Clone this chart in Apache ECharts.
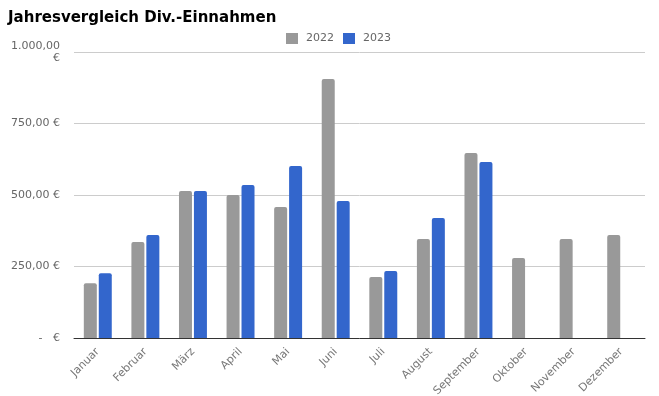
<!DOCTYPE html>
<html>
<head>
<meta charset="utf-8">
<script src="https://cdn.jsdelivr.net/npm/echarts@6/dist/echarts.min.js"></script>
<style>
html,body{margin:0;padding:0;background:#fff;}
#chart{width:659px;height:396px;}
</style>
</head>
<body>
<div id="chart"></div>
<script>
// Monate
var months = ['Januar','Februar','März','April','Mai','Juni','Juli','August','September','Oktober','November','Dezember'];
// Div.-Einnahmen in Euro
var y2022 = [191, 336, 514, 500, 458, 906, 213, 346, 647, 280, 346, 360];
var y2023 = [226, 360, 514, 535, 601, 479, 234, 420, 615, null, null, null];
// Achsenbeschriftung
var tickValues = [0, 250, 500, 750, 1000];
var tickLabels = ['-   €', '250,00 €', '500,00 €', '750,00 €', '1.000,00\n€'];

var chart = echarts.init(document.getElementById('chart'));
chart.setOption({
	animation: false,
	textStyle: {fontFamily: 'DejaVu Sans'},
	title: {
		text: 'Jahresvergleich Div.-Einnahmen',
		left: 3,
		top: 6,
		textStyle: {fontSize: 15, fontWeight: 'bold', color: '#000', fontFamily: 'DejaVu Sans'}
	},
	legend: {
		top: 28,
		left: 281,
		itemWidth: 12,
		itemHeight: 11,
		itemGap: 9,
		icon: 'rect',
		textStyle: {fontSize: 11, color: '#666', padding: [0, 0, 0, 3]},
		data: ['2022', '2023']
	},
	grid: {left: 74, right: 14, top: 52, bottom: 58, containLabel: false, outerBoundsMode: 'none'},
	xAxis: {
		type: 'category',
		data: months,
		axisTick: {show: false},
		axisLine: {lineStyle: {color: '#333'}},
		axisLabel: {rotate: 45, color: '#777', fontSize: 11, interval: 0, margin: 12}
	},
	yAxis: {
		type: 'value',
		min: 0,
		max: 1000,
		interval: 250,
		axisLine: {show: false},
		axisTick: {show: false},
		splitLine: {lineStyle: {color: '#ccc'}},
		axisLabel: {
			color: '#666',
			fontSize: 11,
			margin: 14,
			lineHeight: 12,
			formatter: function (v) {
				var i = tickValues.indexOf(v);
				return i >= 0 ? tickLabels[i] : '';
			}
		}
	},
	series: [
		{
			name: '2022',
			type: 'bar',
			data: y2022,
			barWidth: 13,
			barGap: '15%',
			itemStyle: {color: '#999999', borderRadius: [2, 2, 0, 0]}
		},
		{
			name: '2023',
			type: 'bar',
			data: y2023,
			barWidth: 13,
			itemStyle: {color: '#3366cc', borderRadius: [2, 2, 0, 0]}
		}
	]
});
</script>
</body>
</html>
